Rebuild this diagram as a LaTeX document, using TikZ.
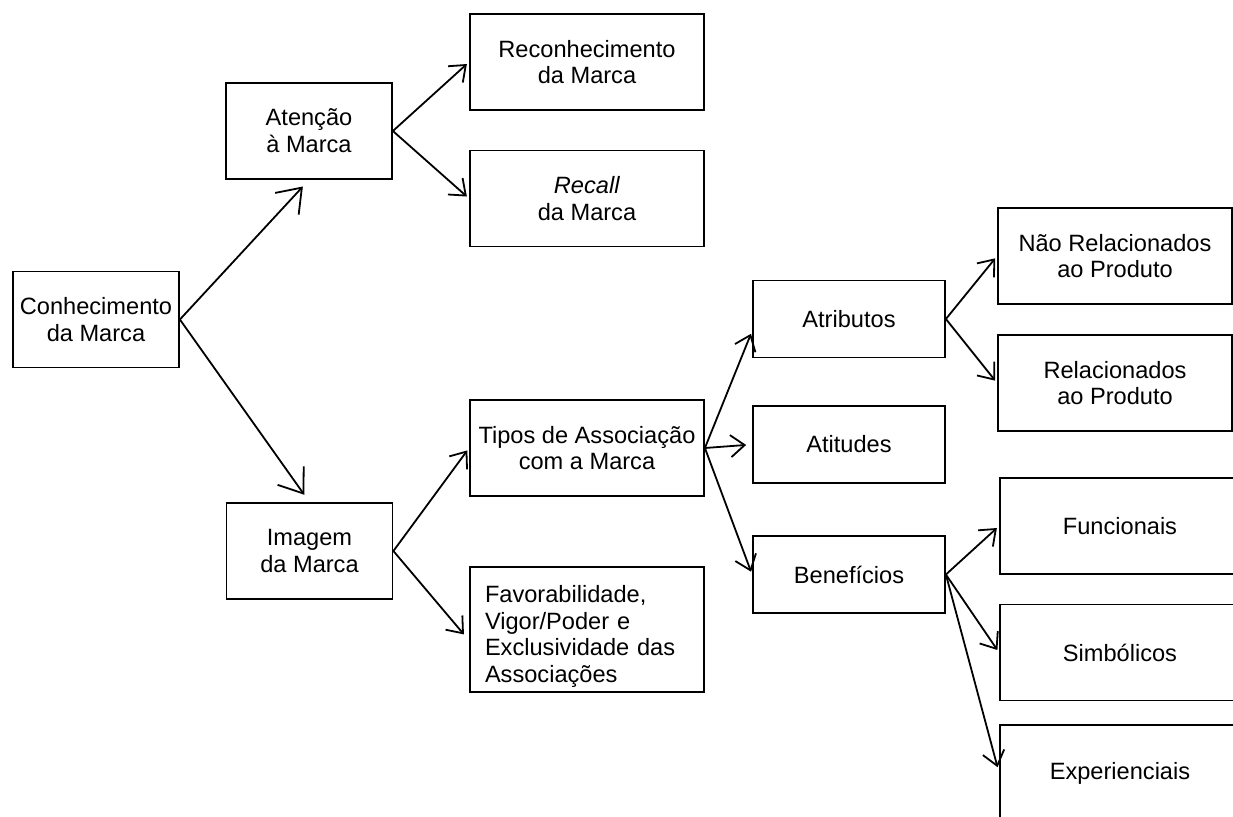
\documentclass[tikz,border=0pt]{standalone}
\usepackage{fontspec}
\setmainfont{Liberation Sans}
\usepackage{tikz}
\usetikzlibrary{arrows.meta}

\begin{document}
\begin{tikzpicture}[x=0.5pt, y=-0.5pt,
	every node/.style={font=\fontsize{11.8}{13.4}\selectfont},
	bx/.style={draw, line width=0.9pt, inner sep=0pt, align=center},
	smallbox/.style={bx, minimum width=83pt, minimum height=48pt},
	midbox/.style={bx, minimum width=117pt, minimum height=48pt},
	atbox/.style={bx, minimum width=96pt, minimum height=38.5pt},
	farbox/.style={bx, minimum width=120pt, minimum height=48pt},
	bigarr/.style={-{Straight Barb[length=11pt, width=16pt]}, line width=0.9pt, shorten >=4.5pt},
	arr/.style={-{Straight Barb[length=7pt, width=11pt]}, line width=0.9pt, shorten >=1.5pt}]
	
	\useasboundingbox (0,0) rectangle (1233,816);
	\clip (0,0) rectangle (1233,816);
	
	% --- coluna 1 e 2 ---
	\node[smallbox] (conh) at (96,319.5) {Conhecimento\\da Marca};
	\node[smallbox] (aten) at (309,131) {Atenção\\à Marca};
	\node[smallbox] (imag) at (309.5,551) {Imagem\\da Marca};
	
	% --- coluna 3 ---
	\node[midbox] (recon) at (587,62) {Reconhecimento\\da Marca};
	\node[midbox] (recall) at (587,198.5) {\textit{Recall}\\da Marca};
	\node[midbox] (tipos) at (587,448) {Tipos de Associação\\com a Marca};
	\node[bx, minimum width=117pt, minimum height=62.5pt, text width=102pt, align=left] (fav) at (587,629.5)
		{\rule{0pt}{15.5pt}Favorabilidade,\\Vigor/Poder e\\Exclusividade das\\Associações};
	
	% --- coluna 4 ---
	\node[atbox] (atrib) at (849,319) {Atributos};
	\node[atbox] (atit) at (849,444.5) {Atitudes};
	\node[atbox] (benef) at (849,574.5) {Benefícios};
	
	% --- coluna 5 (cortada na margem direita) ---
	\node[midbox] (naorel) at (1115,256) {Não Relacionados\\ao Produto};
	\node[midbox] (rel) at (1115,383) {Relacionados\\ao Produto};
	\node[farbox] (func) at (1120,526) {Funcionais};
	\node[farbox] (simb) at (1120,652.5) {Simbólicos};
	\node[farbox] (exper) at (1120,773) {Experienciais};
	
	% --- setas ---
	\draw[bigarr] (conh.east) -- (aten.south);
	\draw[bigarr] (conh.east) -- (imag.north);
	
	\draw[arr] (aten.east) -- (recon.west);
	\draw[arr] (aten.east) -- (recall.west);
	
	\draw[arr] (imag.east) -- (tipos.west);
	\draw[arr, shorten >=4pt] (imag.east) -- ([yshift=-5.5pt]fav.west);
	
	\draw[arr] (tipos.east) -- ([yshift=-6pt]atrib.west);
	\draw[arr, shorten >=3pt] (tipos.east) -- (atit.west);
	\draw[arr] (tipos.east) -- (benef.west);
	
	\draw[arr] (atrib.east) -- (naorel.west);
	\draw[arr] (atrib.east) -- (rel.west);
	
	\draw[arr] (benef.east) -- (func.west);
	\draw[arr] (benef.east) -- (simb.west);
	\draw[arr, shorten >=3pt] (benef.east) -- (exper.west);
	
\end{tikzpicture}
\end{document}
